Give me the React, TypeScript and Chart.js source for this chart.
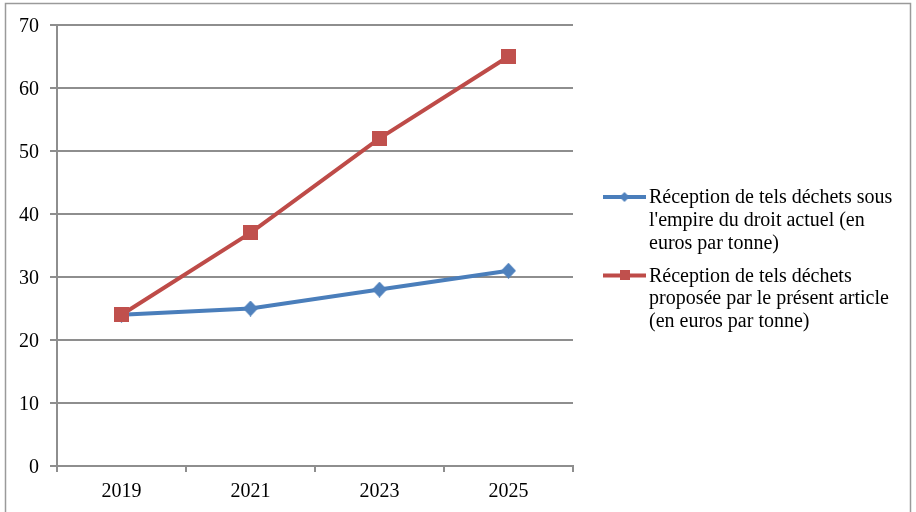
import React, { useEffect, useRef } from "react";
import { Chart, registerables } from "chart.js";

Chart.register(...registerables);

// ---- data ----
const YEARS = ["2019", "2021", "2023", "2025"];
const CURRENT_LAW = [24, 25, 28, 31];
const PROPOSED = [24, 37, 52, 65];
const CURRENT_LABEL = [
  "Réception de tels déchets sous",
  "l'empire du droit actuel (en",
  "euros par tonne)",
];
const PROPOSED_LABEL = [
  "Réception de tels déchets",
  "proposée par le présent article",
  "(en euros par tonne)",
];
const Y_MIN = 0;
const Y_MAX = 70;
const Y_STEP = 10;

// ---- styles ----
const FONT_FAMILY = "'Liberation Serif', 'Times New Roman', serif";
const BLUE_LINE = "#4A7EBB";
const BLUE_MARK = "#4F81BD";
const RED_LINE = "#BE4B48";
const RED_MARK = "#C0504D";
const GRID = "#8E8E8E";

function makeDiamond(w: number, h: number, color: string) {
  const c = document.createElement("canvas");
  c.width = w;
  c.height = h;
  const ctx = c.getContext("2d")!;
  ctx.fillStyle = color;
  ctx.beginPath();
  ctx.moveTo(w / 2, 0);
  ctx.lineTo(w, h / 2);
  ctx.lineTo(w / 2, h);
  ctx.lineTo(0, h / 2);
  ctx.closePath();
  ctx.fill();
  return c;
}

function makeSquare(s: number, color: string) {
  const c = document.createElement("canvas");
  c.width = s;
  c.height = s;
  const ctx = c.getContext("2d")!;
  ctx.fillStyle = color;
  ctx.fillRect(0, 0, s, s);
  return c;
}

export default function App() {
  const ref = useRef<HTMLCanvasElement | null>(null);

  useEffect(() => {
    document.body.style.margin = "0";
    const canvas = ref.current!;
    const diamond = makeDiamond(15, 16, BLUE_MARK);
    const square = makeSquare(15, RED_MARK);
    const legendDiamond = makeDiamond(10, 10, BLUE_MARK);
    const legendSquare = makeSquare(10, RED_MARK);

    const framePlugin = {
      id: "frame",
      beforeDraw(chart: any) {
        const ctx = chart.ctx;
        ctx.save();
        ctx.fillStyle = "#ffffff";
        ctx.fillRect(0, 0, chart.width, chart.height);
        ctx.strokeStyle = "#9A9A9A";
        ctx.lineWidth = 1.5;
        ctx.strokeRect(5.5, 3.5, chart.width - 11, chart.height + 20);
        ctx.restore();
      },
    };

    const legendPlugin = {
      id: "multiLegend",
      afterDraw(chart: any) {
        const ctx = chart.ctx;
        const area = chart.chartArea;
        const x0 = area.right + 30;
        const lineLen = 43;
        const lineH = 22.7;
        const gap = 33;
        let y = 197;
        ctx.save();
        ctx.font = `20px ${FONT_FAMILY}`;
        ctx.textBaseline = "middle";
        ctx.textAlign = "left";
        chart.data.datasets.forEach((ds: any, i: number) => {
          ctx.strokeStyle = ds.borderColor;
          ctx.lineWidth = 4;
          ctx.beginPath();
          ctx.moveTo(x0, y);
          ctx.lineTo(x0 + lineLen, y);
          ctx.stroke();
          const m = i === 0 ? legendDiamond : legendSquare;
          ctx.drawImage(m, x0 + lineLen / 2 - m.width / 2, y - m.height / 2);
          ctx.fillStyle = "#000000";
          const lines: string[] = ds.label;
          lines.forEach((t, k) => {
            ctx.fillText(t, x0 + lineLen + 3, y + 1 + k * lineH);
          });
          y += (lines.length - 1) * lineH + gap;
        });
        ctx.restore();
      },
    };

    const chart = new Chart(canvas, {
      type: "line",
      data: {
        labels: YEARS,
        datasets: [
          {
            label: CURRENT_LABEL as any,
            data: CURRENT_LAW,
            borderColor: BLUE_LINE,
            backgroundColor: BLUE_MARK,
            borderWidth: 4,
            pointStyle: diamond as any,
            pointRadius: 8,
            tension: 0,
            order: 1,
          },
          {
            label: PROPOSED_LABEL as any,
            data: PROPOSED,
            borderColor: RED_LINE,
            backgroundColor: RED_MARK,
            borderWidth: 4,
            pointStyle: square as any,
            pointRadius: 8,
            tension: 0,
            order: 0,
          },
        ],
      },
      options: {
        responsive: false,
        animation: false,
        layout: { padding: { top: 25, right: 343, left: 0, bottom: 0 } },
        plugins: {
          legend: { display: false },
          tooltip: { enabled: false },
        },
        scales: {
          x: {
            offset: true,
            grid: {
              offset: true,
              drawOnChartArea: false,
              drawTicks: true,
              tickLength: 6,
              color: GRID,
              lineWidth: 2,
            },
            border: { display: true, color: GRID, width: 2 },
            ticks: {
              color: "#000000",
              font: { family: FONT_FAMILY, size: 20 },
              padding: 8,
              maxRotation: 0,
            },
            afterFit(scale: any) {
              scale.height = 46;
            },
          },
          y: {
            min: Y_MIN,
            max: Y_MAX,
            grid: {
              color: GRID,
              lineWidth: 2,
              tickLength: 7,
            },
            border: { display: true, color: GRID, width: 2 },
            ticks: {
              stepSize: Y_STEP,
              color: "#000000",
              font: { family: FONT_FAMILY, size: 20 },
              padding: 11,
              labelOffset: 2,
            },
            afterFit(scale: any) {
              scale.width = 57;
            },
          },
        },
      },
      plugins: [framePlugin, legendPlugin],
    });

    return () => chart.destroy();
  }, []);

  return (
    <div style={{ width: 916, height: 512 }}>
      <canvas ref={ref} width={916} height={512} />
    </div>
  );
}
